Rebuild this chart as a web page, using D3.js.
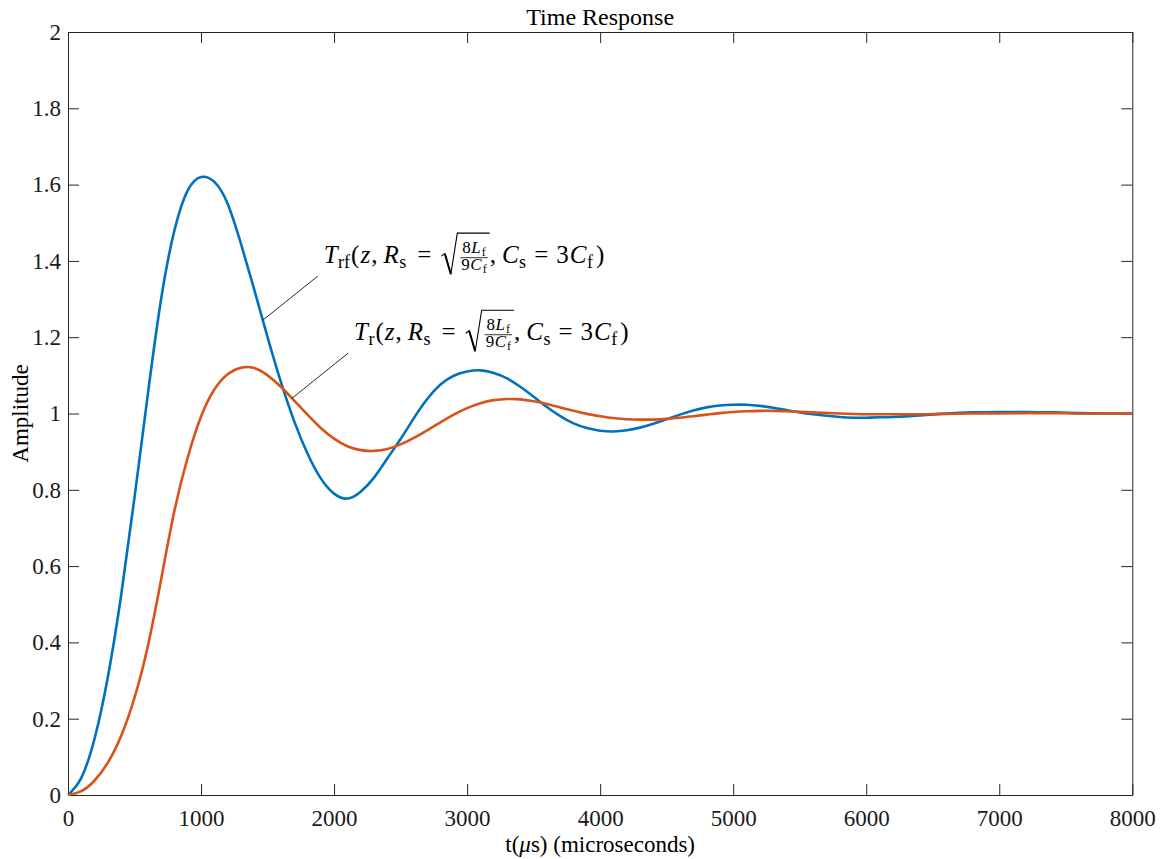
<!DOCTYPE html>
<html>
<head>
<meta charset="utf-8">
<script src="https://cdn.jsdelivr.net/npm/d3@7"></script>
<style>
  html, body { margin: 0; padding: 0; background: #fff; }
  svg { display: block; }
</style>
</head>
<body>
<svg id="chart" width="1168" height="859"></svg>
<script>
// Step responses of the two filter configurations (time in µs)
const timeRf = [0, 100, 200, 300, 400, 500, 600, 700, 800, 900, 1000, 1100, 1200, 1300, 1400, 1500, 1600, 1700, 1800, 1900, 2000, 2100, 2200, 2300, 2400, 2500, 2600, 2700, 2800, 2900, 3000, 3100, 3200, 3300, 3400, 3500, 3600, 3700, 3800, 3900, 4000, 4100, 4200, 4300, 4400, 4500, 4600, 4700, 4800, 4900, 5000, 5100, 5200, 5300, 5400, 5500, 5600, 5700, 5800, 5900, 6000, 6100, 6200, 6400, 6600, 6800, 7000, 7200, 7400, 7600, 7800, 8000];
const ampRf = [0, 0.045, 0.148, 0.31, 0.525, 0.78, 1.05, 1.30, 1.48, 1.585, 1.62, 1.607, 1.55, 1.445, 1.325, 1.20, 1.083, 0.98, 0.895, 0.83, 0.79, 0.777, 0.795, 0.832, 0.882, 0.933, 0.988, 1.038, 1.076, 1.099, 1.11, 1.113, 1.106, 1.092, 1.07, 1.044, 1.017, 0.993, 0.974, 0.962, 0.955, 0.953, 0.956, 0.963, 0.973, 0.985, 0.997, 1.008, 1.016, 1.021, 1.023, 1.023, 1.02, 1.015, 1.009, 1.003, 0.998, 0.994, 0.991, 0.989, 0.989, 0.99, 0.991, 0.995, 1.0, 1.003, 1.004, 1.004, 1.003, 1.001, 1.0, 1.0];

const timeR = [0, 100, 200, 300, 400, 500, 600, 700, 800, 900, 1000, 1100, 1200, 1300, 1400, 1500, 1600, 1700, 1800, 1900, 2000, 2100, 2200, 2300, 2400, 2500, 2600, 2700, 2800, 2900, 3000, 3100, 3200, 3300, 3400, 3500, 3600, 3700, 3800, 3900, 4000, 4100, 4200, 4300, 4400, 4500, 4600, 4700, 4800, 4900, 5000, 5100, 5200, 5300, 5400, 5600, 5800, 6000, 6200, 6400, 6600, 6800, 7000, 7300, 7600, 8000];
const ampR = [0, 0.01, 0.038, 0.085, 0.155, 0.255, 0.39, 0.565, 0.745, 0.885, 0.992, 1.063, 1.103, 1.12, 1.119, 1.10, 1.07, 1.034, 0.997, 0.962, 0.934, 0.914, 0.904, 0.902, 0.907, 0.919, 0.936, 0.956, 0.977, 0.997, 1.014, 1.027, 1.035, 1.038, 1.037, 1.032, 1.025, 1.016, 1.007, 0.999, 0.993, 0.988, 0.985, 0.984, 0.984, 0.986, 0.989, 0.993, 0.997, 1.001, 1.004, 1.006, 1.007, 1.007, 1.006, 1.003, 1.0, 0.998, 0.998, 0.998, 0.999, 1.0, 1.0, 1.001, 1.0, 1.0];

const xTicks = [0, 1000, 2000, 3000, 4000, 5000, 6000, 7000, 8000];
const yTicks = [0, 0.2, 0.4, 0.6, 0.8, 1, 1.2, 1.4, 1.6, 1.8, 2];

// Callout anchors: [point on curve, label end] in data units
const calloutRf = [[1466, 1.245], [1877, 1.36]];
const calloutR = [[1684, 1.04], [2105, 1.158]];

const titleText = "Time Response";
const yLabelText = "Amplitude";

const W = 1168, H = 859;
const plot = { left: 68, right: 1132.3, top: 32, bottom: 795 };
const axisColor = "#262626";
const serif = "'Liberation Serif', 'Times New Roman', serif";
const colorRf = "#0072BD", colorR = "#D95319";

const svg = d3.select("#chart");
svg.append("rect").attr("width", W).attr("height", H).attr("fill", "#fff");

const x = d3.scaleLinear().domain([0, 8000]).range([plot.left, plot.right]);
const y = d3.scaleLinear().domain([0, 2]).range([plot.bottom, plot.top]);

const fmtY = d => String(+d.toFixed(1));
const tickLen = 11;

function styleAxis(g) {
  g.select(".domain").attr("stroke", axisColor).attr("stroke-width", 1);
  g.selectAll(".tick line").attr("stroke", axisColor).attr("stroke-width", 1);
  g.selectAll(".tick text").attr("fill", "#1a1a1a").attr("font-family", serif).attr("font-size", 23);
}

// Bottom / left axes with labels, ticks pointing inward
svg.append("g").attr("transform", `translate(0,${plot.bottom})`)
  .call(d3.axisBottom(x).tickValues(xTicks).tickFormat(d3.format("d")).tickSizeInner(-tickLen).tickSizeOuter(0).tickPadding(15))
  .call(styleAxis);
svg.append("g").attr("transform", `translate(${plot.left},0)`)
  .call(d3.axisLeft(y).tickValues(yTicks).tickFormat(fmtY).tickSizeInner(-tickLen).tickSizeOuter(0).tickPadding(7))
  .call(styleAxis);
// Top / right box edges with mirrored ticks
svg.append("g").attr("transform", `translate(0,${plot.top})`)
  .call(d3.axisTop(x).tickValues(xTicks).tickFormat("").tickSizeInner(-tickLen).tickSizeOuter(0))
  .call(styleAxis);
svg.append("g").attr("transform", `translate(${plot.right},0)`)
  .call(d3.axisRight(y).tickValues(yTicks).tickFormat("").tickSizeInner(-tickLen).tickSizeOuter(0))
  .call(styleAxis);

// Title and axis labels
svg.append("text").attr("x", (plot.left + plot.right) / 2).attr("y", 25)
  .attr("text-anchor", "middle").attr("font-family", serif).attr("font-size", 24)
  .attr("fill", "#000").text(titleText);

const xl = svg.append("text").attr("x", (plot.left + plot.right) / 2).attr("y", 852)
  .attr("text-anchor", "middle").attr("font-family", serif).attr("font-size", 23).attr("fill", "#000");
xl.append("tspan").text("t(");
xl.append("tspan").attr("font-style", "italic").text("μ");
xl.append("tspan").text("s) (microseconds)");

svg.append("text").attr("transform", `translate(28,${(plot.top + plot.bottom) / 2}) rotate(-90)`)
  .attr("text-anchor", "middle").attr("font-family", serif).attr("font-size", 23)
  .attr("fill", "#000").text(yLabelText);

// Response curves (smooth cubic spline through the sampled values)
const line = d3.line().x(d => x(d[0])).y(d => y(d[1])).curve(d3.curveNatural);
const seriesRf = timeRf.map((t, i) => [t, ampRf[i]]);
const seriesR = timeR.map((t, i) => [t, ampR[i]]);

svg.append("path").datum(seriesRf).attr("d", line)
  .attr("fill", "none").attr("stroke", colorRf).attr("stroke-width", 2.6).attr("stroke-linejoin", "round");
svg.append("path").datum(seriesR).attr("d", line)
  .attr("fill", "none").attr("stroke", colorR).attr("stroke-width", 2.6).attr("stroke-linejoin", "round");

// Callout lines
function callout(pts) {
  svg.append("line")
    .attr("x1", x(pts[0][0])).attr("y1", y(pts[0][1]))
    .attr("x2", x(pts[1][0])).attr("y2", y(pts[1][1]))
    .attr("stroke", "#111").attr("stroke-width", 0.9);
}
callout(calloutRf);
callout(calloutR);

// Typeset the transfer-function label: T_sub(z, R_s = sqrt(8L_f / 9C_f), C_s = 3C_f)
const MS = 25, SS = 18, FS = 17, FSS = 12;
function run(g, st, txt, o = {}) {
  const t = g.append("text").attr("x", st.x).attr("y", o.dy || 0)
    .attr("font-family", serif).attr("font-size", o.size || MS)
    .attr("font-style", o.italic ? "italic" : "normal").attr("fill", "#000").text(txt);
  st.x += t.node().getComputedTextLength() + (o.after || 0);
  return t;
}
function fracPart(g, x0, dy, lead, letter) {
  const st = { x: x0 };
  run(g, st, lead, { size: FS, dy: dy, after: 0.5 });
  run(g, st, letter, { size: FS, dy: dy, italic: true, after: 1 });
  run(g, st, "f", { size: FSS, dy: dy + 3 });
  return st.x - x0;
}
function mathLabel(anchor, sub) {
  const g = svg.append("g").attr("transform", `translate(${x(anchor[0]) + 6},${y(anchor[1]) - 13})`);
  const st = { x: 0 };
  run(g, st, "T", { italic: true, after: 0.5 });
  run(g, st, sub, { size: SS, dy: 5, after: 1 });
  run(g, st, "(", { after: 1 });
  run(g, st, "z", { italic: true, after: 1 });
  run(g, st, ",", { after: 6 });
  run(g, st, "R", { italic: true, after: 0.5 });
  run(g, st, "s", { size: SS, dy: 5, after: 11 });
  run(g, st, "=", { after: 10 });
  // radical with fraction inside
  const r0 = st.x;
  const top = -30;
  const gm = g.append("g");
  const numW = fracPart(gm, 0, -10, "8", "L");
  const denW = fracPart(gm, 0, 7, "9", "C");
  gm.remove();
  const fw = Math.max(numW, denW);
  const fx = r0 + 20;
  fracPart(g, fx + (fw - numW) / 2, -10, "8", "L");
  fracPart(g, fx + (fw - denW) / 2, 7, "9", "C");
  g.append("line").attr("x1", fx - 1).attr("x2", fx + fw + 1).attr("y1", -5.5).attr("y2", -5.5)
    .attr("stroke", "#000").attr("stroke-width", 0.8);
  g.append("path")
    .attr("d", `M${r0},-7 L${r0 + 3.5},-9.5 L${r0 + 9.5},11 L${r0 + 16},${top} L${fx + fw + 3},${top}`)
    .attr("fill", "none").attr("stroke", "#000").attr("stroke-width", 1.1).attr("stroke-linejoin", "miter");
  g.append("path")
    .attr("d", `M${r0 + 3.5},-9.5 L${r0 + 9.5},11`)
    .attr("fill", "none").attr("stroke", "#000").attr("stroke-width", 2);
  st.x = fx + fw + 3;
  run(g, st, ",", { after: 6 });
  run(g, st, "C", { italic: true, after: 0.5 });
  run(g, st, "s", { size: SS, dy: 5, after: 8 });
  run(g, st, "=", { after: 8 });
  run(g, st, "3", { after: 1 });
  run(g, st, "C", { italic: true, after: 0.5 });
  run(g, st, "f", { size: SS, dy: 5, after: 3 });
  run(g, st, ")");
}
mathLabel(calloutRf[1], "rf");
mathLabel(calloutR[1], "r");
</script>
</body>
</html>
